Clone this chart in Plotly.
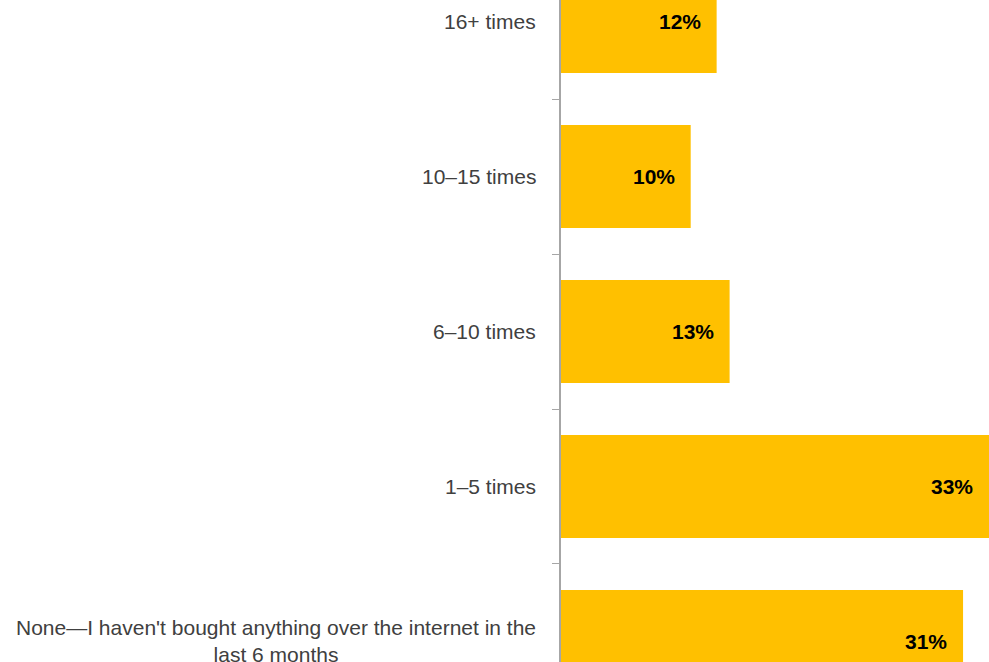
import plotly.graph_objects as go

# Online purchase frequency over the last 6 months (share of respondents, %)
categories = [
    "None\u2014I haven't bought anything over the internet in the<br>last 6 months",
    "1\u20135 times",
    "6\u201310 times",
    "10\u201315 times",
    "16+ times",
]
values = [31, 33, 13, 10, 12]
value_labels = ["31%", "33%", "13%", "10%", "12%"]

BAR_COLOR = "#FFC000"
LABEL_COLOR = "#404040"
FONT = "Liberation Sans, Arial, sans-serif"

fig = go.Figure(
    go.Bar(
        x=values,
        y=categories,
        orientation="h",
        marker=dict(color=BAR_COLOR, line=dict(width=0)),
        hoverinfo="skip",
    )
)

annotations = []
for cat, val, lab in zip(categories, values, value_labels):
    # category label, centred text block to the left of the axis
    annotations.append(dict(
        x=0, xref="paper", y=cat, yref="y",
        text=cat, showarrow=False,
        xanchor="right", yanchor="middle", align="center",
        xshift=-23,
        font=dict(family=FONT, size=21, color=LABEL_COLOR),
    ))
    # value label inside the bar near its end
    annotations.append(dict(
        x=val, xref="x", y=cat, yref="y",
        text="<b>" + lab + "</b>", showarrow=False,
        xanchor="right", yanchor="middle",
        xshift=-14,
        font=dict(family=FONT, size=21, color="#000000"),
    ))

fig.update_layout(
    width=989,
    height=662,
    margin=dict(l=561, r=0, t=0, b=0),
    paper_bgcolor="white",
    plot_bgcolor="white",
    bargap=0.335,
    showlegend=False,
    annotations=annotations,
    xaxis=dict(
        range=[0, 33],
        showgrid=False,
        zeroline=False,
        showticklabels=False,
        ticks="",
        showline=False,
    ),
    yaxis=dict(
        type="category",
        categoryorder="array",
        categoryarray=categories,
        range=[-0.1323, 4.1387],
        tickson="boundaries",
        ticks="outside",
        ticklen=7,
        tickcolor="#A6A6A6",
        tickwidth=1,
        showticklabels=False,
        showgrid=False,
        zeroline=False,
        showline=True,
        linecolor="#A6A6A6",
        linewidth=2,
    ),
)

fig.write_html("out.html")
